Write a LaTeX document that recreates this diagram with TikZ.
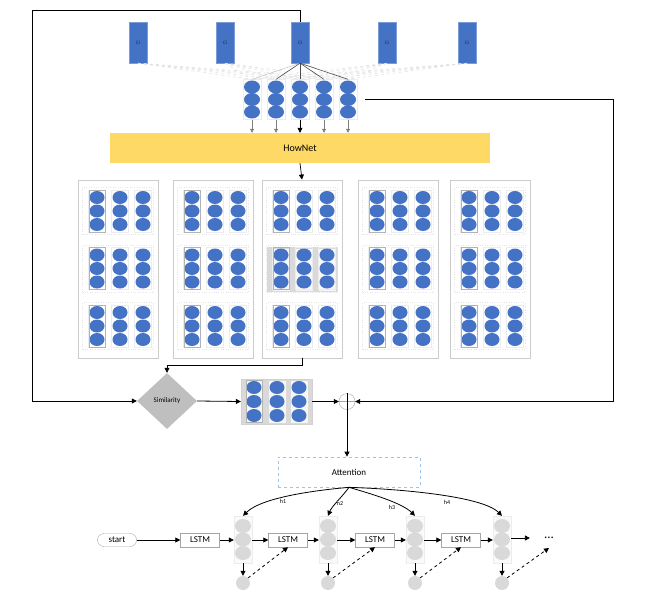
\documentclass[tikz,border=0pt]{standalone}
\usepackage{fontspec}
\setmainfont{Carlito}
\usetikzlibrary{arrows.meta,shapes.geometric,calc}
\definecolor{cblue}{HTML}{4472C4}
\definecolor{hnyel}{HTML}{FFD966}
\definecolor{attblue}{HTML}{9DC3E6}
\begin{document}
\begin{tikzpicture}[x=1pt,y=-1pt,
  cibox/.style={rectangle, fill=cblue, draw=cblue!70!white, minimum width=18pt, minimum height=41pt, inner sep=0pt, text=black!85, font=\fontsize{5}{5}\selectfont},
  bdot/.style={ellipse, fill=cblue, minimum width=15pt, minimum height=13pt, inner sep=0pt},
  gdot/.style={ellipse, fill=gray!30, minimum width=16pt, minimum height=14pt, inner sep=0pt},
  colbox/.style={rectangle, draw=gray!15, minimum width=17pt, minimum height=42pt, inner sep=0pt},
  colboxdark/.style={rectangle, draw=gray!60, line width=0.7pt, minimum width=16pt, minimum height=42pt, inner sep=0pt},
  groupbox/.style={rectangle, draw=gray!20, dotted, minimum width=71pt, minimum height=47pt, inner sep=0pt},
  panelbox/.style={rectangle, draw=gray!40, line width=0.8pt, minimum width=80pt, minimum height=178pt, inner sep=0pt},
  arr/.style={-{Triangle[length=5pt,width=5pt]}, line width=0.8pt, black},
  garr/.style={-{Triangle[length=4pt,width=4pt]}, line width=0.6pt, gray},
  lstmbox/.style={rectangle, draw=gray!70, minimum width=39pt, minimum height=14pt, inner sep=0pt, font=\fontsize{9}{10}\selectfont},
  faint/.style={gray!25, line width=0.5pt, dashed}
]
\useasboundingbox (0,0) rectangle (659,602);

% ---- Ci boxes ----
\foreach \j/\x in {1/138,2/225,3/300,4/387,5/467}
  \node[cibox] (ci\j) at (\x,42.5) {Ci};

% ---- top circle columns ----
\foreach \i/\x in {1/252,2/276,3/300,4/324,5/348} {
  \node[colbox, minimum width=18pt, minimum height=40pt] (tc\i) at (\x,99.5) {};
  \foreach \k/\y in {1/87,2/99.5,3/112}
    \node[bdot, minimum width=16pt] (t\i\k) at (\x,\y) {};
}

% faint links from the other Ci boxes
\foreach \j in {1,2,4,5}
  \foreach \i in {1,...,5}
    \draw[faint] (ci\j.south) -- (tc\i.north);
\draw[gray!50, line width=0.5pt] (ci3.south) -- (tc1.north);
\foreach \i in {2,...,5}
  \draw[black!70, line width=0.6pt] (ci3.south) -- (tc\i.north);

% ---- HowNet ----
\node[rectangle, fill=hnyel, minimum width=380pt, minimum height=30pt, inner sep=0pt, font=\fontsize{10}{12}\selectfont] (hn) at (300,148) {HowNet};
\foreach \i in {1,2,4,5}
  \draw[garr] (tc\i.south) -- (tc\i.south |- hn.north);
\draw[arr, line width=0.7pt] (tc3.south) -- (tc3.south |- hn.north);

% ---- panels ----
\node[rectangle, fill=gray!30, minimum width=71pt, minimum height=45pt, inner sep=0pt] (hl) at (302.5,269.5) {};
\foreach \c/\dx in {1/19,2/42,3/65}
  \node[rectangle, fill=gray!6, minimum width=17pt, minimum height=42pt, inner sep=0pt] (hlc\c) at (262+\dx,269.5) {};

\foreach \p/\xl in {1/78,2/173,3/262,4/358,5/450} {
  \node[panelbox] (panel\p) at (\xl+40,269) {};
  \foreach \g/\yc in {1/211,2/268.5,3/326} {
    \node[groupbox] (grp\p\g) at (\xl+40,\yc) {};
    \foreach \c/\dx in {1/19,2/42,3/65} {
      \node[colbox] (col\p\g\c) at (\xl+\dx,\yc) {};
      \foreach \k/\dy in {1/-13.5,2/0,3/13.5}
        \node[bdot] (d\p\g\c\k) at (\xl+\dx,\yc+\dy) {};
    }
    \node[colboxdark] (fc\p\g) at (\xl+19,\yc) {};
  }
}
\draw[arr, line width=0.7pt] (hn.south) -- (panel3.north);

% ---- similarity row ----
\node[diamond, fill=gray!50, minimum width=60pt, minimum height=56pt, inner sep=0pt, font=\fontsize{7}{8}\selectfont] (sim) at (167,401) {Similarity};

\node[rectangle, fill=gray!30, draw=gray!35, minimum width=71pt, minimum height=45pt, inner sep=0pt] (sg) at (276.5,401.5) {};
\foreach \c/\x in {1/254,2/277,3/299} {
  \node[rectangle, fill=gray!6, minimum width=17pt, minimum height=42pt, inner sep=0pt] (sgc\c) at (\x,401.5) {};
  \foreach \k/\y in {1/387.5,2/401.5,3/415.5}
    \node[bdot] (sgd\c\k) at (\x,\y) {};
}
\node[colboxdark] (sgf) at (254,401.5) {};

\node[circle, draw=gray!70, minimum size=16pt, inner sep=0pt] (plus) at (347,401.5) {};
\draw[gray!70, line width=0.6pt] (plus.west) -- (plus.east);

\node[rectangle, draw=attblue, dashed, line width=0.7pt, minimum width=142pt, minimum height=30pt, inner sep=0pt, font=\fontsize{9}{10}\selectfont] (att) at (349,472) {Attention};

% loops
\coordinate (tl) at (32,10);
\coordinate (tr) at (613,99.5);
\draw[arr] (ci3.north) |- (tl) |- (sim.west);
\draw[arr] ([xshift=8pt]tc5.east) -- (tr) |- (plus.east);
\draw[arr] (panel3.south) -- ++(0,7) -| (sim.north);
\draw[arr] (sim.east) -- (sg.west);
\draw[arr] (sg.east) -- (plus.west);
\draw[arr] (plus.north) -- (plus.north |- att.north);

% ---- LSTM chain ----
\node[draw=gray!70, rounded corners=6.5pt, minimum width=39pt, minimum height=13pt, inner sep=0pt, font=\fontsize{9}{10}\selectfont] (start) at (117,540) {start};
\foreach \i/\x in {1/200,2/288,3/375,4/461}
  \node[lstmbox] (lstm\i) at (\x,540) {LSTM};
\foreach \i/\x in {1/243,2/328,3/415,4/502} {
  \node[rectangle, draw=gray!15, fill=gray!4, minimum width=18pt, minimum height=47pt, inner sep=0pt] (sc\i) at (\x,539.5) {};
  \foreach \k/\y in {1/526,2/539.5,3/553}
    \node[gdot] (s\i\k) at (\x,\y) {};
  \node[circle, fill=gray!30, minimum size=14pt, inner sep=0pt] (bc\i) at (\x,583) {};
  \draw[arr] (sc\i.south) -- (bc\i.north);
}
\node[font=\fontsize{13}{13}\selectfont, inner xsep=14pt, inner ysep=4pt] (dots) at (549,538) {...};

\draw[arr] (start.east) -- (lstm1.west);
\draw[arr] (lstm1.east) -- (lstm1.east -| sc1.west);
\draw[arr] (sc1.east |- lstm2.west) -- (lstm2.west);
\draw[arr] (lstm2.east) -- (lstm2.east -| sc2.west);
\draw[arr] (sc2.east |- lstm3.west) -- (lstm3.west);
\draw[arr] (lstm3.east) -- (lstm3.east -| sc3.west);
\draw[arr] (sc3.east |- lstm4.west) -- (lstm4.west);
\draw[arr] (lstm4.east) -- (lstm4.east -| sc4.west);
\draw[arr] (sc4.east |- dots.west) -- (dots.west);

\draw[arr, dashed] (bc1.north east) -- (lstm2.south);
\draw[arr, dashed] (bc2.north east) -- (lstm3.south);
\draw[arr, dashed] (bc3.north east) -- (lstm4.south);
\draw[arr, dashed] (bc4.north east) -- ([yshift=-5pt]dots.south);

% attention curves
\draw[arr] (att.south) .. controls (318,490) and (262,497) .. (sc1.north);
\draw[arr] (att.south) .. controls (342,497) and (332,506) .. (sc2.north);
\draw[arr] (att.south) .. controls (372,494) and (402,503) .. (sc3.north);
\draw[arr] (att.south) .. controls (400,489) and (482,496) .. (sc4.north);
\node[fill=white, inner sep=0.3pt, font=\fontsize{6}{6}\selectfont] (h1) at (283,501) {h1};
\node[fill=white, inner sep=0.3pt, font=\fontsize{6}{6}\selectfont] (h2) at (340,503) {h2};
\node[fill=white, inner sep=0.3pt, font=\fontsize{6}{6}\selectfont] (h3) at (392,507) {h3};
\node[fill=white, inner sep=0.3pt, font=\fontsize{6}{6}\selectfont] (h4) at (447,502) {h4};
\end{tikzpicture}
\end{document}
